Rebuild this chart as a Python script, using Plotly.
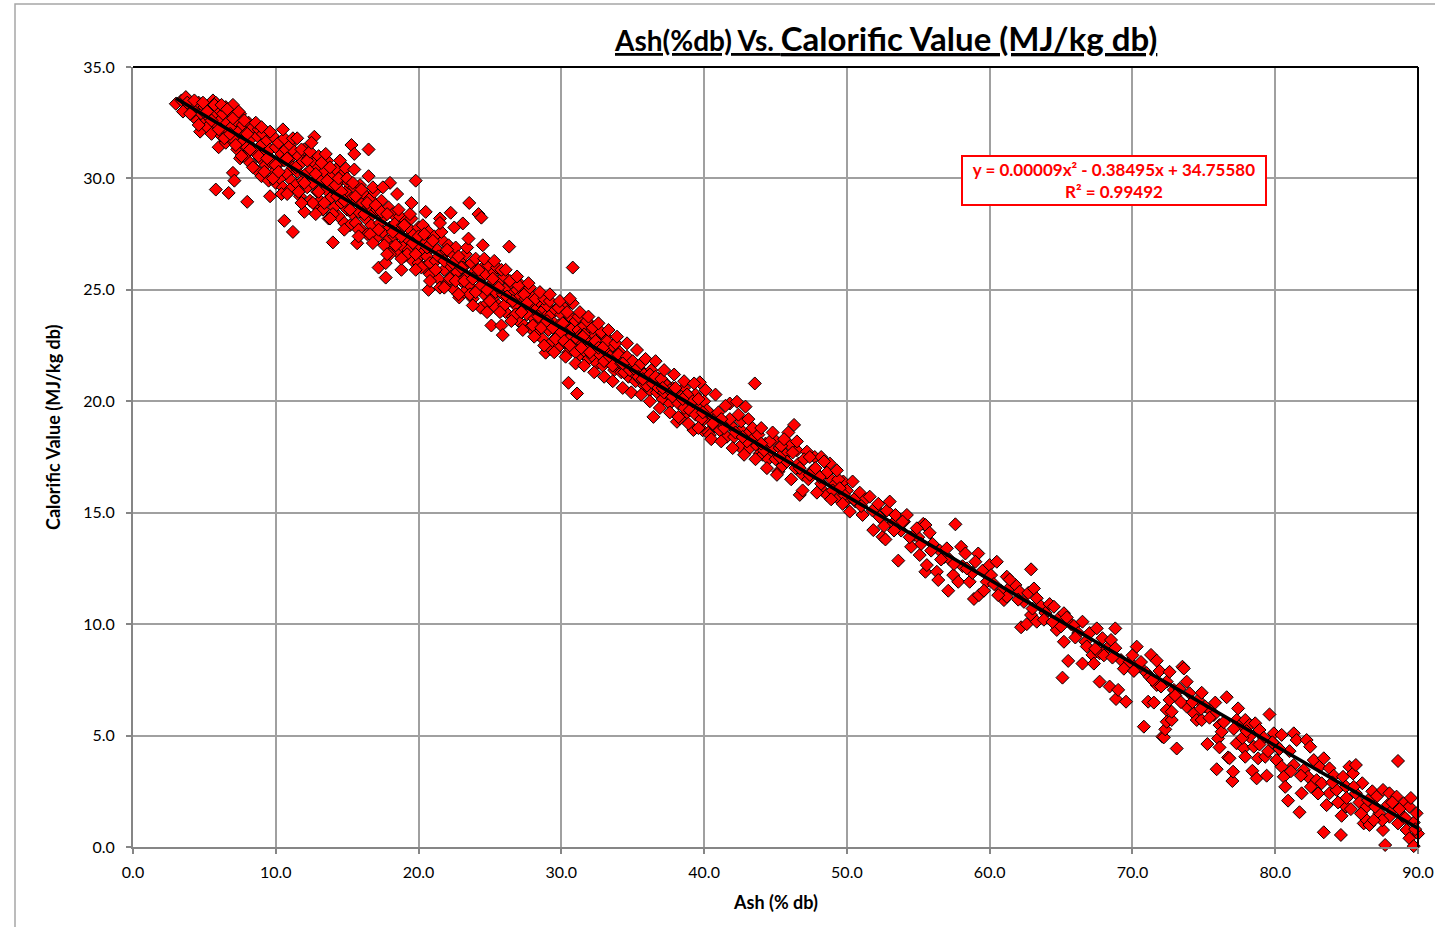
import numpy as np
import plotly.graph_objects as go

# ---- data: (ash %db, calorific value MJ/kg db) ----
pts_03_10 = [(3.0,33.35),(3.4,33.5),(3.7,33.65),(3.9,33.1),(4.1,33.3),(4.2,32.8),(4.4,33.0),(4.5,32.6),(4.6,33.4),(4.7,32.1),
 (4.8,32.9),(5.0,33.2),(5.0,32.5),(5.1,32.9),(5.2,32.3),(5.3,33.1),(5.4,32.7),(5.5,32.0),(5.6,33.5),(5.7,32.8),(5.8,33.4),
 (5.8,29.5),(5.9,32.4),(6.0,31.4),(6.0,33.1),(6.1,32.6),(6.2,31.9),(6.3,32.9),(6.4,32.2),(6.5,33.2),(6.5,31.6),(6.6,32.5),
 (6.7,29.35),(6.8,31.8),(6.8,33.0),(6.9,32.3),(7.0,30.25),(7.0,33.3),(7.1,29.9),(7.1,31.7),(7.2,32.6),(7.3,31.3),(7.4,32.1),
 (7.5,32.9),(7.5,30.9),(7.6,31.6),(7.7,32.4),(7.8,31.0),(7.9,32.0),(8.0,28.95),(8.0,31.4),(8.1,32.5),(8.2,30.7),(8.3,31.8),
 (8.4,32.3),(8.5,31.2),(8.6,30.4),(8.7,31.9),(8.8,32.2),(8.9,30.9),(9.0,31.5),(9.0,30.1),(9.1,32.0),(9.2,31.1),(9.3,30.6),
 (9.4,31.7),(9.5,29.9),(9.6,29.2),(9.6,31.3),(9.7,30.7),(9.8,31.9),(9.9,30.3),(10.0,31.4),(10.0,29.8)]

pts_10_20 = [(10.1,30.6),(10.2,31.6),(10.3,30.0),(10.4,31.1),(10.5,29.6),(10.6,28.1),(10.6,30.8),(10.7,31.3),(10.8,30.2),
 (10.9,29.4),(11.0,30.9),(11.0,31.5),(11.1,29.9),(11.2,27.6),(11.2,30.5),(11.3,31.2),(11.4,29.7),(11.5,30.3),(11.6,31.0),
 (11.7,29.2),(11.8,30.7),(11.9,29.9),(12.0,31.3),(12.0,28.5),(12.1,30.2),(12.2,29.6),(12.3,30.9),(12.4,29.0),(12.5,30.4),
 (12.6,29.8),(12.7,31.87),(12.7,30.7),(12.8,28.8),(12.9,29.4),(13.0,30.5),(13.0,31.0),(13.1,29.0),(13.2,29.9),(13.3,28.6),
 (13.4,30.3),(13.5,29.5),(13.6,30.8),(13.7,28.2),(13.8,29.1),(13.9,30.1),(14.0,27.13),(14.0,29.6),(14.1,28.7),(14.2,30.4),
 (14.3,29.2),(14.4,28.3),(14.5,29.9),(14.6,28.9),(14.7,30.2),(14.8,28.0),(14.9,30.45),(14.9,29.4),(15.0,28.6),(15.1,29.8),
 (15.2,27.9),(15.3,31.5),(15.3,29.1),(15.4,28.4),(15.5,31.1),(15.5,29.6),(15.6,28.0),(15.7,27.09),(15.7,29.0),(15.8,28.5),
 (15.9,29.7),(16.0,27.7),(16.1,28.9),(16.2,29.3),(16.3,28.2),(16.4,27.5),(16.5,31.3),(16.5,28.7),(16.6,29.1),(16.7,27.9),
 (16.8,28.4),(16.9,29.4),(17.0,27.3),(17.1,28.6),(17.2,26.0),(17.3,28.0),(17.4,29.0),(17.5,27.6),(17.6,28.3),(17.7,26.2),
 (17.7,25.55),(17.8,27.2),(17.9,28.7),(18.0,29.8),(18.0,27.8),(18.1,26.9),(18.2,28.4),(18.3,27.4),(18.4,28.0),(18.5,26.7),
 (18.6,27.6),(18.7,28.3),(18.8,25.9),(18.8,27.0),(18.9,27.9),(19.0,26.5),(19.1,28.1),(19.2,27.3),(19.3,26.8),(19.4,27.7),
 (19.5,28.2),(19.6,26.3),(19.7,27.5),(19.8,29.9),(19.9,26.9),(20.0,27.8),(20.0,26.2)]

pts_20_30 = [(20.1,27.3),(20.2,26.6),(20.3,27.9),(20.4,26.0),(20.5,27.1),(20.6,26.5),(20.7,25.0),(20.7,27.6),(20.8,26.2),
 (20.9,26.9),(21.0,25.7),(21.1,27.4),(21.2,26.3),(21.3,26.8),(21.4,25.5),(21.5,28.2),(21.5,25.1),(21.6,26.5),(21.7,27.2),
 (21.8,25.9),(21.9,26.7),(22.0,25.3),(22.1,27.0),(22.2,26.1),(22.25,28.46),(22.3,25.6),(22.4,26.6),(22.5,25.0),(22.6,26.9),
 (22.7,25.8),(22.85,24.66),(22.9,26.3),(23.0,25.4),(23.1,27.98),(23.1,26.0),(23.2,24.9),(23.3,26.6),(23.4,25.6),(23.55,28.9),
 (23.6,25.2),(23.7,26.2),(23.8,24.6),(23.9,25.8),(24.0,26.4),(24.1,25.0),(24.2,28.4),(24.3,25.5),(24.35,24.2),(24.4,28.24),
 (24.5,26.0),(24.6,24.8),(24.7,25.7),(24.8,24.4),(24.9,26.1),(25.0,25.2),(25.1,23.4),(25.2,24.6),(25.3,25.8),(25.4,24.9),
 (25.5,26.0),(25.6,24.3),(25.7,25.4),(25.8,23.4),(25.9,22.97),(25.9,24.8),(26.0,25.6),(26.1,24.0),(26.2,25.1),(26.35,26.94),
 (26.4,24.6),(26.5,25.3),(26.6,23.8),(26.7,24.9),(26.8,24.3),(26.9,25.0),(27.0,23.6),(27.1,24.7),(27.2,25.2),(27.3,24.1),
 (27.4,23.4),(27.5,24.6),(27.6,23.9),(27.7,24.9),(27.8,23.3),(27.9,24.3),(28.0,24.7),(28.1,23.7),(28.2,24.1),(28.3,23.0),
 (28.4,24.5),(28.5,23.5),(28.6,24.0),(28.7,22.8),(28.9,22.18),(28.9,23.8),(29.0,24.3),(29.1,23.2),(29.3,22.33),(29.3,23.9),
 (29.4,22.7),(29.5,23.5),(29.6,24.1),(29.7,22.9),(29.8,23.4),(29.9,22.5),(30.0,23.9)]

pts_30_40 = [(30.1,23.0),(30.2,24.2),(30.3,22.6),(30.4,23.5),(30.5,20.83),(30.5,22.2),(30.6,23.8),(30.7,22.9),(30.8,26.0),
 (30.8,23.3),(30.9,22.4),(31.0,23.6),(31.1,20.35),(31.1,22.8),(31.2,23.2),(31.3,22.1),(31.4,23.0),(31.5,22.6),(31.6,23.4),
 (31.7,22.2),(31.8,22.9),(31.9,21.9),(32.0,23.1),(32.1,22.5),(32.2,22.0),(32.3,23.0),(32.4,22.3),(32.5,21.7),(32.6,22.8),
 (32.7,22.1),(32.8,22.6),(32.9,21.6),(33.0,22.4),(33.1,22.9),(33.2,21.9),(33.3,22.2),(33.5,21.7),(33.6,22.5),(33.7,21.4),
 (33.8,22.0),(34.0,21.6),(34.1,22.2),(34.2,21.3),(34.4,21.9),(34.5,21.5),(34.7,21.1),(34.8,21.8),(35.0,21.3),(35.1,21.7),
 (35.2,20.9),(35.4,21.5),(35.5,21.0),(35.7,21.3),(35.8,20.7),(36.0,21.1),(36.2,20.5),(36.3,21.4),(36.45,19.3),(36.5,20.9),
 (36.7,20.4),(36.8,21.0),(37.0,20.6),(37.1,20.1),(37.3,20.8),(37.5,20.3),(37.6,19.9),(37.8,20.6),(38.0,20.1),(38.1,19.08),
 (38.3,19.23),(38.3,20.4),(38.5,19.9),(38.6,20.6),(38.8,19.5),(39.0,20.2),(39.1,19.7),(39.25,18.71),(39.4,20.3),(39.6,19.5),
 (39.7,20.85),(39.8,19.8),(39.9,18.7),(40.0,19.2),(40.0,20.0)]

pts_40_50 = [(40.3,18.6),(40.4,18.49),(40.5,19.4),(40.7,18.9),(40.9,19.3),(41.1,18.7),(41.3,19.0),(41.6,18.41),(41.8,19.9),
 (41.9,18.9),(42.1,18.4),(42.3,19.98),(42.5,17.96),(42.6,18.7),(42.9,19.76),(43.0,18.5),(43.2,17.9),(43.4,18.3),(43.55,20.8),
 (43.7,18.0),(43.9,17.66),(44.1,17.6),(44.3,18.1),(44.5,17.4),(44.7,17.8),(44.9,18.3),(45.2,16.84),(45.3,17.9),(45.5,17.1),
 (45.7,17.6),(45.9,18.6),(46.0,18.04),(46.3,18.94),(46.4,17.0),(46.5,17.8),(46.7,15.8),(46.9,16.7),(47.2,17.74),(47.3,16.5),
 (47.6,16.9),(47.75,17.5),(48.0,16.7),(48.2,17.5),(48.3,16.0),(48.6,15.8),(48.8,17.21),(48.9,16.5),(49.2,16.3),(49.4,15.64),
 (49.6,16.1),(49.75,16.4),(49.9,15.5),(50.0,16.0)]

pts_dense_fill = [(3.5,33.0),(3.8,33.4),(4.0,32.9),(4.3,33.5),(4.6,32.4),(4.9,33.4),(5.2,33.0),(5.5,32.6),(5.7,33.3),
 (6.0,32.2),(6.2,33.3),(6.4,31.8),(6.6,33.1),(6.8,32.0),(7.0,32.7),(7.2,31.5),(7.4,33.0),(7.6,31.0),(7.8,32.6),(8.0,32.0),
 (8.2,31.3),(8.4,30.5),(8.6,32.5),(8.8,31.0),(9.0,32.3),(9.2,30.3),(9.4,30.9),(9.6,32.1),(9.8,30.0),(10.0,30.6),(10.2,30.3),
 (10.4,29.3),(10.6,31.8),(10.8,30.9),(11.0,29.5),(11.2,31.8),(11.4,30.5),(11.6,29.4),(11.8,31.3),(12.0,29.8),(12.2,30.8),
 (12.4,31.2),(12.6,28.9),(12.8,30.2),(13.0,29.4),(13.2,30.7),(13.4,28.9),(13.6,29.9),(13.8,30.5),(14.0,28.4),(14.2,29.7),
 (14.4,30.0),(14.6,29.4),(14.8,29.0),(15.0,30.0),(15.2,28.6),(15.4,29.8),(15.6,29.2),(15.8,27.7),(16.0,29.5),(16.2,28.4),
 (16.4,28.9),(16.6,27.5),(16.8,29.6),(17.0,28.8),(17.2,27.7),(17.4,28.5),(17.6,27.0),(17.8,28.4),(18.0,26.6),(18.2,27.6),
 (18.4,27.0),(18.6,28.6),(18.8,27.4),(19.0,27.9),(19.2,26.6),(19.4,28.4),(19.6,27.1),(19.8,26.6),(20.0,27.4),(20.2,26.0),
 (20.4,27.5),(20.6,26.9),(20.8,25.7),(21.0,27.2),(21.2,25.9),(21.4,26.5),(21.6,27.6),(21.8,26.3),(22.0,26.8),(22.2,25.5),
 (22.4,26.2),(22.6,25.4),(22.8,26.5),(23.0,26.0),(23.2,25.4),(23.4,26.9),(23.6,24.8),(23.8,25.5),(24.0,24.9),(24.2,25.9),
 (24.4,25.2),(24.6,26.4),(24.8,25.0),(25.0,24.5),(25.2,25.5),(25.4,24.2),(25.6,25.1),(25.8,25.9),(26.0,24.3),(26.2,24.7),
 (26.4,25.4),(26.6,24.5),(26.8,23.9),(27.0,25.2),(27.2,24.0),(27.4,24.8),(27.6,24.4),(27.8,25.1),(28.0,23.4),(28.2,24.6),
 (28.4,23.8),(28.6,23.3),(28.8,24.6),(29.0,23.6),(29.2,24.5),(29.4,23.3),(29.6,22.8),(29.8,24.2),(30.0,23.1),(30.2,22.7),
 (30.4,24.0),(30.6,22.5),(30.8,24.4),(31.0,22.2),(31.2,23.8),(31.4,22.4),(31.6,23.0),(31.8,23.6),(32.0,22.2),(32.2,23.3),
 (32.4,22.7),(32.6,22.4),(32.8,23.1),(33.0,21.8),(33.2,22.7),(33.4,22.0),(33.6,21.6),(33.8,22.6),(34.0,22.1),(34.2,21.7),
 (34.4,21.3),(34.6,22.0),(34.8,21.4),(35.0,21.8),(35.2,21.4),(35.4,21.1),(35.6,21.7),(35.8,21.2),(36.0,20.7),(36.2,21.2),
 (36.4,20.8),(36.6,21.1),(36.8,20.6),(37.0,21.0),(37.2,20.4),(37.4,20.7),(37.6,20.5),(37.8,20.2),(38.0,20.6),(38.2,19.9),
 (38.4,20.2),(38.6,19.7),(38.8,20.3),(39.0,19.6),(39.2,20.0),(39.4,19.4),(39.6,20.1),(39.8,19.2),(40.2,19.6),(40.6,19.0),
 (41.0,19.5),(41.4,18.8),(41.8,19.2),(42.2,18.6),(42.6,19.1),(43.0,18.2),(43.4,18.8),(43.8,18.5),(44.2,17.8),(44.6,18.2),
 (45.0,17.4),(45.4,18.0),(45.8,17.3),(46.2,17.7),(46.6,17.2),(47.0,17.4),(47.4,16.7),(47.8,17.0),(48.2,16.3),(48.6,16.8),
 (49.0,16.0),(49.4,16.5),(49.8,15.8)]

pts_band_edges = [(10.5,32.2),(11.5,31.8),(12.5,31.6),(13.5,31.1),(14.5,30.8),(15.5,30.4),(16.5,30.1),(17.5,29.6),
 (18.5,29.3),(19.5,28.9),(20.5,28.5),(21.5,28.0),(22.5,27.8),(23.5,27.3),(24.5,27.0),(10.8,29.3),(11.8,28.9),(12.8,28.4),
 (13.8,28.2),(14.8,27.7),(15.8,27.4),(16.8,27.1),(17.8,26.6),(18.8,26.4),(19.8,25.9),(20.8,25.4),(21.8,25.1),(22.8,24.8),
 (23.8,24.3),(24.8,24.0),(25.3,26.3),(25.7,24.0),(26.1,25.9),(26.5,23.6),(26.9,25.6),(27.3,23.2),(27.7,25.3),(28.1,22.9),
 (28.5,24.9),(28.8,22.5),(29.2,24.8),(29.5,22.2),(29.9,24.5),(30.3,22.0),(30.6,24.6),(31.0,21.7),(31.3,24.0),(31.6,21.6),
 (31.9,23.8),(32.3,21.3),(32.6,23.5),(33.0,21.1),(33.3,23.2),(33.6,20.9),(33.9,22.9),(34.3,20.6),(34.6,22.6),(34.9,20.4),
 (35.3,22.3),(35.6,20.3),(35.9,21.9),(36.2,20.0),(36.6,21.8),(36.9,19.7),(37.2,21.4),(37.6,19.5),(37.9,21.2),(38.2,19.3),
 (38.6,20.9),(38.9,19.0),(39.3,20.8),(39.6,18.8),(40.1,20.5),(40.5,18.3),(40.8,20.3),(41.2,18.2),(41.5,19.8),(42.0,17.9),
 (42.4,19.4),(42.8,17.6),(43.1,19.2),(43.6,17.4),(44.0,18.8),(44.4,17.0),(44.8,18.6),(45.1,16.7),(45.6,18.3),(46.1,16.5),
 (46.5,18.2),(46.9,16.0),(47.4,17.5),(47.9,15.9),(48.4,17.3),(48.9,15.6),(49.3,16.9),(49.7,15.4),(30.1,23.5),(31.5,22.9),
 (32.9,22.4),(34.3,21.7),(35.7,21.0),(37.1,20.6),(38.5,20.1),(39.9,19.5),(41.2,19.2),(42.7,18.4),(44.0,18.1),(45.3,17.5),
 (46.7,17.0),(48.1,16.6),(49.5,16.1)]

pts_50_60 = [(50.2,15.05),(50.4,16.4),(50.6,15.5),(50.9,15.9),(51.1,14.9),(51.3,15.6),(51.6,15.72),(51.85,14.22),(52.0,15.2),
 (52.3,14.8),(52.5,13.92),(52.7,13.8),(52.8,15.1),(53.0,15.5),(53.2,14.5),(53.4,14.9),(53.6,12.85),(53.8,14.2),(54.0,14.6),
 (54.2,14.9),(54.5,13.47),(54.7,14.0),(55.0,13.9),(55.1,13.1),(55.35,14.5),(55.5,12.35),(55.5,14.45),(55.6,12.65),(55.8,14.1),
 (56.0,13.6),(56.3,12.35),(56.4,11.98),(56.5,13.3),(56.8,13.0),(57.1,11.5),(57.2,12.9),(57.45,12.2),(57.6,14.48),(57.8,11.9),
 (58.0,13.47),(58.1,12.6),(58.3,13.17),(58.6,11.9),(58.8,12.3),(58.9,11.13),(59.2,13.17),(59.25,11.3),(59.5,12.4),(59.8,11.9),
 (60.0,12.65),(50.5,15.6),(51.0,15.3),(51.8,15.1),(52.2,15.4),(52.6,14.4),(53.3,14.2),(53.9,14.6),(54.4,13.9),(54.9,14.3),
 (55.2,13.6),(55.9,13.3),(56.6,12.9),(57.0,13.4),(57.5,12.7),(58.4,12.5),(59.0,12.8),(59.6,11.5),(60.1,12.2)]

pts_60_70 = [(60.3,11.8),(60.5,12.8),(60.8,11.5),(61.0,11.08),(61.2,12.13),(61.2,11.23),(61.5,11.7),(61.8,11.76),(62.1,11.46),
 (62.2,9.86),(62.4,11.0),(62.6,10.0),(62.7,11.4),(62.9,12.46),(62.9,10.41),(63.1,11.6),(63.3,11.16),(63.3,10.11),(63.6,10.8),
 (63.9,10.5),(64.2,10.9),(64.5,10.78),(64.7,9.74),(64.9,10.3),(65.1,7.6),(65.2,10.49),(65.2,9.21),(65.5,8.35),(65.7,10.0),
 (65.9,9.92),(66.2,9.6),(66.5,10.11),(66.5,8.23),(66.7,9.21),(67.0,9.6),(67.2,8.62),(67.3,8.23),(67.5,9.81),(67.7,8.69),
 (67.7,7.42),(67.9,9.37),(68.2,8.9),(68.4,7.2),(68.5,9.29),(68.8,8.92),(68.8,9.81),(68.85,6.64),(69.0,7.05),(69.2,8.39),
 (69.55,6.52),(69.8,8.31),(70.0,8.6),(60.6,11.3),(61.4,12.0),(62.0,11.1),(63.0,10.7),(63.8,10.2),(64.4,10.1),(65.0,9.9),
 (65.4,10.3),(66.0,9.4),(66.8,9.0),(67.4,8.9),(68.0,8.6),(68.6,8.5),(69.4,8.0)]

pts_70_80 = [(70.3,8.99),(70.5,8.1),(70.8,5.4),(71.0,7.8),(71.1,6.52),(71.2,7.64),(71.3,8.62),(71.5,6.48),(71.7,8.36),
 (71.7,7.27),(71.9,7.9),(72.1,4.95),(72.2,4.92),(72.3,5.28),(72.4,6.15),(72.4,7.42),(72.4,5.62),(72.6,7.86),(72.6,6.6),
 (72.75,5.7),(72.75,6.07),(72.9,7.05),(73.1,4.42),(73.3,7.1),(73.5,8.09),(73.6,8.01),(73.8,7.42),(73.8,6.3),(74.0,6.9),
 (74.3,6.0),(74.5,5.7),(74.6,6.6),(74.85,6.92),(74.85,5.7),(75.1,6.3),(75.25,4.62),(75.5,6.1),(75.7,5.92),(75.8,6.48),
 (75.9,3.49),(76.0,4.87),(76.1,5.47),(76.1,4.47),(76.25,5.17),(76.6,6.72),(76.7,4.02),(76.8,3.98),(77.0,2.96),(77.05,3.38),
 (77.3,5.7),(77.3,4.65),(77.4,6.22),(77.6,5.5),(77.8,4.43),(77.9,5.7),(77.9,4.05),(78.2,5.47),(78.2,4.95),(78.4,3.42),
 (78.5,4.5),(78.6,5.55),(78.7,3.08),(78.8,3.98),(78.9,5.25),(79.2,4.9),(79.3,4.05),(79.4,3.2),(79.6,5.95),(79.9,5.1),
 (80.0,4.6),(70.1,7.9),(70.6,8.3),(71.4,7.5),(72.0,7.2),(73.0,6.8),(73.4,6.5),(74.2,6.5),(74.8,6.2),(75.4,5.8),(76.4,5.6),
 (77.1,5.3),(77.7,4.9),(78.0,5.2),(78.9,4.6),(79.5,4.3),(79.8,4.7)]

pts_80_90 = [(80.1,3.9),(80.45,5.03),(80.45,3.6),(80.6,3.15),(80.7,2.7),(80.9,2.08),(81.0,4.3),(81.3,5.1),(81.3,3.68),
 (81.5,4.8),(81.7,1.56),(81.85,2.41),(82.0,3.46),(82.2,4.8),(82.3,3.15),(82.45,4.5),(82.7,3.9),(82.9,3.0),(83.1,3.6),
 (83.25,2.86),(83.4,3.98),(83.4,0.66),(83.6,1.88),(83.8,3.53),(83.8,2.41),(84.1,3.2),(84.3,2.56),(84.6,0.54),(84.65,1.4),
 (84.75,3.15),(84.95,2.71),(84.95,1.81),(85.2,3.6),(85.45,3.3),(85.65,3.68),(85.65,2.41),(85.9,2.0),(86.1,2.86),(86.2,1.06),
 (86.4,1.81),(86.4,1.21),(86.6,0.99),(86.8,2.5),(87.1,2.26),(87.3,1.51),(87.55,2.56),(87.55,0.76),(87.7,0.09),(87.9,1.9),
 (88.0,2.41),(88.0,1.36),(88.3,1.7),(88.5,2.26),(88.6,3.86),(88.6,1.06),(88.9,1.4),(89.0,1.96),(89.2,0.76),(89.4,1.81),
 (89.4,0.39),(89.7,0.04),(89.7,1.1),(89.9,1.51),(90.1,1.36),(90.0,0.6),(84.0,2.9),(85.0,2.2),(85.5,2.7),(86.0,1.5),
 (86.5,2.1),(87.0,1.8),(87.5,1.2),(88.2,2.0),(88.7,1.7),(89.1,1.3),(89.5,2.2),(89.8,0.8),(86.9,1.2),(85.3,1.7),(84.4,2.0),
 (83.0,2.4),(82.5,2.7),(81.8,3.2),(81.1,3.4),(80.3,4.4)]

# polynomial trendline coefficients as printed on the chart (a*x^2 + b*x + c)
trend_coeffs = [0.00009, -0.38495, 34.75580]
r_squared = 0.99492
trend_x_range = [3.0, 90.0]

x_ticks = [0, 10, 20, 30, 40, 50, 60, 70, 80, 90]
y_ticks = [0, 5, 10, 15, 20, 25, 30, 35]

all_pts = (pts_03_10 + pts_10_20 + pts_20_30 + pts_30_40 + pts_40_50 + pts_dense_fill + pts_band_edges
           + pts_50_60 + pts_60_70 + pts_70_80 + pts_80_90)
ash = [p[0] for p in all_pts]
cv = [p[1] for p in all_pts]

tx = np.linspace(trend_x_range[0], trend_x_range[1], 200)
ty = np.polyval(trend_coeffs, tx)

FONT = "Lato"
fig = go.Figure()
fig.add_trace(go.Scatter(x=ash, y=cv, mode="markers", cliponaxis=False,
                         marker=dict(symbol="diamond", size=10, color="#ff0000",
                                     line=dict(color="#000000", width=1)),
                         showlegend=False, hoverinfo="x+y"))
fig.add_trace(go.Scatter(x=tx, y=ty, mode="lines", line=dict(color="#000000", width=3.5),
                         showlegend=False, hoverinfo="skip"))

L, R, T, B = 133, 17, 67, 80
axis_common = dict(showgrid=True, gridcolor="#a0a0a0", gridwidth=1.6,
                   showline=True, linecolor="#868686", linewidth=2,
                   ticks="outside", ticklen=5, tickcolor="#868686", tickwidth=1.5,
                   tickfont=dict(size=16, family=FONT, color="#000000"),
                   zeroline=False, automargin=False)
fig.update_layout(
    width=1435, height=927, autosize=False,
    margin=dict(l=L, r=R, t=T, b=B, pad=0),
    paper_bgcolor="white", plot_bgcolor="white",
    font=dict(family=FONT, color="#000000"),
    xaxis=dict(range=[0, 90], tickvals=x_ticks, ticktext=[f"{v:.1f}" for v in x_ticks],
               ticklabelstandoff=5, **axis_common),
    yaxis=dict(range=[0, 35], tickvals=y_ticks, ticktext=[f"{v:.1f}" for v in y_ticks],
               ticklabelstandoff=8, **axis_common),
)

# black frame on top and right of plot area
fig.add_shape(type="line", xref="paper", yref="paper", x0=0, x1=1, y0=1, y1=1,
              line=dict(color="#000000", width=2))
fig.add_shape(type="line", xref="paper", yref="paper", x0=1, x1=1, y0=0, y1=1,
              line=dict(color="#000000", width=2))
# outer chart border
fig.add_shape(type="rect", xref="paper", yref="paper",
              x0=(15 - L) / 1285, x1=(1450 - L) / 1285, y0=(847 - 940) / 780, y1=(847 - 4) / 780,
              line=dict(color="#a6a6a6", width=1.5), layer="below")

fig.add_annotation(xref="paper", yref="paper", x=(885 - L) / 1285, y=(847 - 38) / 780,
                   text="<b><u><span style='font-size:28px'>Ash(%db) Vs. </span>Calorific Value (MJ/kg db)</u></b>",
                   showarrow=False, font=dict(size=33, family=FONT, color="#000000"),
                   xanchor="center", yanchor="middle")
fig.add_annotation(xref="paper", yref="paper", x=(775 - L) / 1285, y=(847 - 902) / 780,
                   text="<b>Ash (% db)</b>", showarrow=False,
                   font=dict(size=18, family=FONT), xanchor="center", yanchor="middle")
fig.add_annotation(xref="paper", yref="paper", x=(53 - L) / 1285, y=(847 - 428) / 780,
                   text="<b>Calorific Value (MJ/kg db)</b>", showarrow=False, textangle=-90,
                   font=dict(size=18, family=FONT), xanchor="center", yanchor="middle")

eq_text = (f"<b>y = {trend_coeffs[0]:.5f}x² - {abs(trend_coeffs[1]):.5f}x + {trend_coeffs[2]:.5f}"
           f"<br>R² = {r_squared:.5f}</b>")
fig.add_annotation(xref="paper", yref="paper", x=(1114 - L) / 1285, y=(847 - 180.5) / 780,
                   text=eq_text, showarrow=False, align="center",
                   font=dict(size=17, family=FONT, color="#ff0000"),
                   bgcolor="white", bordercolor="#ff0000", borderwidth=2, borderpad=2,
                   width=298, xanchor="center", yanchor="middle")

fig.write_html("out.html")
